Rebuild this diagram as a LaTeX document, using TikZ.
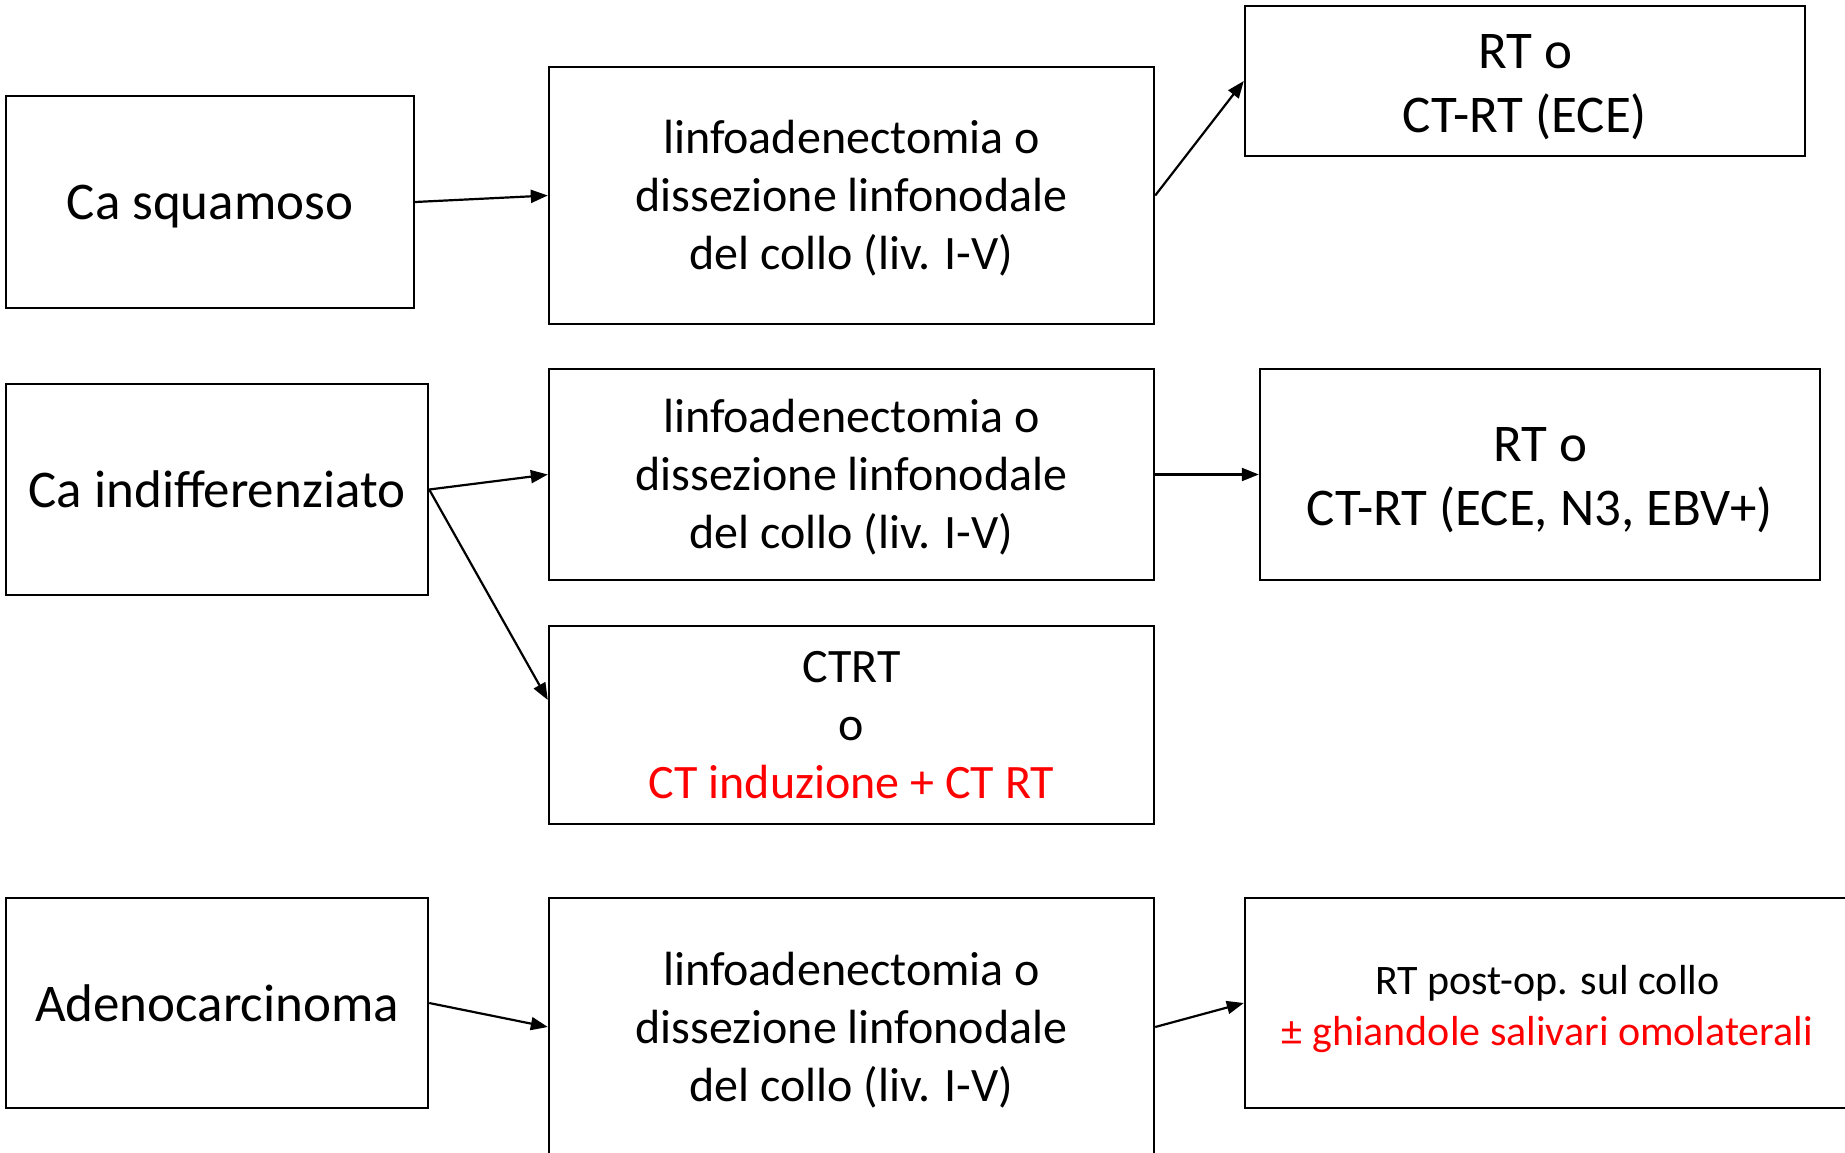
\documentclass[tikz,border=0pt]{standalone}
\usepackage{fontspec}
\setmainfont{Carlito}
\usetikzlibrary{arrows.meta}
\definecolor{redtxt}{RGB}{255,0,0}
\begin{document}
\begin{tikzpicture}[x=1pt,y=-1pt,
  box/.style={draw=black, line width=2.4pt, rectangle, inner sep=0pt},
  txt/.style={inner sep=0pt, align=center, font=\fontsize{53}{58}\selectfont},
  midtxt/.style={txt, font=\fontsize{48}{58}\selectfont},
  rttxt/.style={txt, font=\fontsize{53}{64}\selectfont},
  smalltxt/.style={txt, font=\fontsize{42}{51}\selectfont},
  arr/.style={line width=2.2pt, -{Triangle[length=17pt,width=13pt]}}]
\clip (0,0) rectangle (1845,1153);
\fill[white] (0,0) rectangle (1845,1153);
% row 1
\node[box, minimum width=408pt, minimum height=212pt] (sq) at (210,202) {};
\node[txt, yshift=-5pt] (sqt) at (sq.center) {Ca squamoso};
\node[box, minimum width=605pt, minimum height=257pt] (m1) at (851.5,195.5) {};
\node[midtxt, yshift=-3pt] (m1t) at (m1.center) {linfoadenectomia o\\dissezione linfonodale\\del collo (liv. I-V)};
\node[box, minimum width=560pt, minimum height=150pt] (r1) at (1525,81) {};
\node[rttxt, yshift=-6pt] (r1t) at (r1.center) {RT o\\CT-RT (ECE)};
% row 2
\node[box, minimum width=422pt, minimum height=211pt] (ind) at (217,489.5) {};
\node[txt] (indt) at (ind.center) {Ca indifferenziato};
\node[box, minimum width=605pt, minimum height=211pt] (m2) at (851.5,474.5) {};
\node[midtxt, yshift=-3pt] (m2t) at (m2.center) {linfoadenectomia o\\dissezione linfonodale\\del collo (liv. I-V)};
\node[box, minimum width=560pt, minimum height=211pt] (r2) at (1540,474.5) {};
\node[rttxt, yshift=-6pt] (r2t) at (r2.center) {RT o\\CT-RT (ECE, N3, EBV+)};
\node[box, minimum width=605pt, minimum height=198pt] (ctrt) at (851.5,725) {};
\node[midtxt] (ctrtt) at (ctrt.center) {CTRT\\o\\\textcolor{redtxt}{CT induzione + CT RT}};
% row 3
\node[box, minimum width=422pt, minimum height=210pt] (ad) at (217,1003) {};
\node[txt] (adt) at (ad.center) {Adenocarcinoma};
\node[box, minimum width=605pt, minimum height=258pt] (m3) at (851.5,1027) {};
\node[midtxt, yshift=-3pt] (m3t) at (m3.center) {linfoadenectomia o\\dissezione linfonodale\\del collo (liv. I-V)};
\node[box, minimum width=605pt, minimum height=210pt] (r3) at (1547.5,1003) {};
\node[smalltxt, yshift=-6pt] (r3t) at (r3.center) {RT post-op. sul collo\\\textcolor{redtxt}{± ghiandole salivari omolaterali}};
% arrows
\draw[arr] (sq.east) -- (m1.west);
\draw[arr] (m1.east) -- (r1.west);
\draw[arr] (ind.east) -- (m2.west);
\draw[arr] (ind.east) -- ([yshift=25pt]ctrt.west);
\draw[arr] (m2.east) -- (r2.west);
\draw[arr] (ad.east) -- (m3.west);
\draw[arr] (m3.east) -- (r3.west);
\end{tikzpicture}
\end{document}
